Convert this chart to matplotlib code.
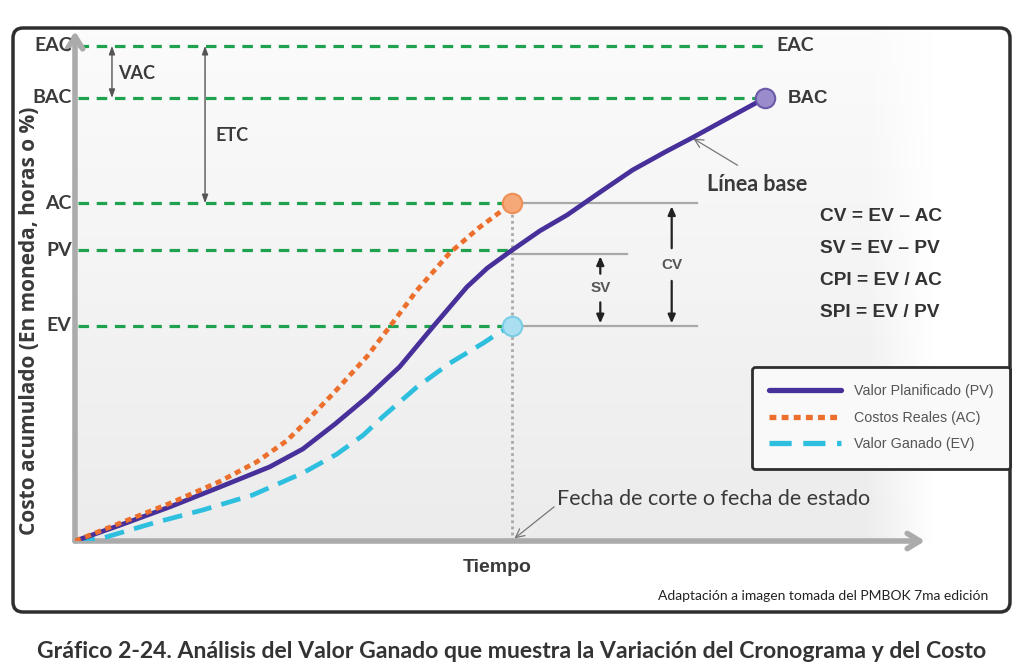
import numpy as np
import matplotlib
matplotlib.use("Agg")
import matplotlib.pyplot as plt
from matplotlib.patches import FancyBboxPatch

# ---------------- data (time units 0-100, cost units 0-100) ----------------
pv_time = [0, 5.3, 11.2, 17.1, 22.9, 26.8, 30.6, 34.4, 38.2, 42.1, 46.1, 48.5, 51.4,
           54.7, 57.9, 61.8, 65.6, 69.4, 72.6, 77.1, 81.2]
pv_cost = [0, 3.1, 6.7, 10.6, 14.5, 18.0, 22.9, 28.2, 34.1, 41.9, 49.7, 53.4, 56.9,
           60.7, 63.8, 68.3, 72.6, 76.1, 78.9, 83.0, 86.7]

ac_time = [0, 5.3, 11.2, 17.1, 21.4, 24.9, 26.8, 30.4, 34.4, 37.1, 40.2, 44.1, 47.6, 51.4]
ac_cost = [0, 3.5, 7.4, 11.7, 15.5, 19.6, 22.7, 28.9, 36.2, 42.1, 49.0, 56.4, 61.4, 66.1]

ev_time = [0, 3.3, 9.2, 15.1, 20.9, 26.8, 30.8, 33.9, 36.2, 40.2, 44.1, 48.0, 50.0, 51.4]
ev_cost = [0, 0.6, 3.5, 6.1, 9.0, 13.3, 17.0, 20.7, 24.3, 30.1, 34.8, 38.7, 40.9, 42.1]

level_labels = ["EAC", "BAC", "AC", "PV", "EV"]
level_values = [96.9, 86.7, 66.1, 56.9, 42.1]

series_labels = ["Valor Planificado (PV)", "Costos Reales (AC)", "Valor Ganado (EV)"]
formulas = ["CV = EV – AC", "SV = EV – PV", "CPI = EV / AC", "SPI = EV / PV"]

cutoff_t = ac_time[-1]
lv = dict(zip(level_labels, level_values))

# ---------------- styling ----------------
GREEN = "#1fa24f"
PURPLE = "#47309a"
ORANGE = "#ec6f2d"
CYAN = "#2ebfdf"
DARK = "#3a3a3a"
GRAY = "#a9a9a9"
BOLD = ["Lato", "DejaVu Sans"]
NARROW = ["Liberation Sans Narrow", "Liberation Sans", "DejaVu Sans"]

fig = plt.figure(figsize=(10.24, 6.72), dpi=100)
fig.patch.set_facecolor("white")

# background / decoration axes in pixel coordinates
bg = fig.add_axes([0, 0, 1, 1])
bg.set_xlim(0, 1024)
bg.set_ylim(672, 0)
bg.axis("off")

# soft gray gradient behind the plot area
H, W = 200, 300
yy = np.linspace(0, 1, H).reshape(-1, 1)
xx = np.linspace(0, 1, W).reshape(1, -1)
shade = 0.985 - 0.06 * yy * np.ones_like(xx)
fade = np.clip((1.0 - xx) / 0.08, 0, 1) * np.ones_like(yy)
img = np.ones((H, W, 4))
img[..., 0] = shade
img[..., 1] = shade
img[..., 2] = shade
img[..., 3] = fade
bg.imshow(img, extent=(78, 935, 541, 30), aspect="auto", zorder=0, interpolation="bilinear")
frame = FancyBboxPatch((13, 28), 997, 584, boxstyle="round,pad=0,rounding_size=10",
                       facecolor="none", edgecolor="#2e2e2e", lw=2.5, zorder=5)
bg.add_patch(frame)

bg.text(30, 321, "Costo acumulado (En moneda, horas o %)", rotation=90, ha="center", va="center",
        fontsize=15, fontweight="bold", color=DARK, family=["Open Sans", "DejaVu Sans"])
bg.text(497, 567, "Tiempo", ha="center", va="center", fontsize=14, fontweight="bold",
        color=DARK, family=NARROW)
bg.text(988, 596, "Adaptación a imagen tomada del PMBOK 7ma edición", ha="right", va="center",
        fontsize=10, color="#222222", family=["Lato", "DejaVu Sans"])
bg.text(512, 652, "Gráfico 2-24. Análisis del Valor Ganado que muestra la Variación del Cronograma y del Costo",
        ha="center", va="center", fontsize=16.6, fontweight="bold", color="#333333", family=BOLD)

# ---------------- main axes ----------------
ax = fig.add_axes([75 / 1024, (672 - 541) / 672, 850 / 1024, 511 / 672])
ax.set_xlim(0, 100)
ax.set_ylim(0, 100)
ax.patch.set_alpha(0)
ax.axis("off")

# axes arrows
ax.annotate("", xy=(100, 0), xytext=(0, 0), annotation_clip=False,
            arrowprops=dict(arrowstyle="->,head_length=0.9,head_width=0.55", color="#ababab", lw=4,
                            shrinkA=0, shrinkB=0))
ax.annotate("", xy=(0, 99.8), xytext=(0, 0), annotation_clip=False,
            arrowprops=dict(arrowstyle="->,head_length=0.9,head_width=0.55", color="#ababab", lw=4,
                            shrinkA=0, shrinkB=0))

# green reference levels
for name, val in zip(level_labels, level_values):
    xend = pv_time[-1] if name in ("EAC", "BAC") else cutoff_t
    ax.plot([0.4, xend], [val, val], color=GREEN, lw=2.3, ls=(0, (3.3, 2.4)), zorder=2)
    ax.text(-0.4, val, name, ha="right", va="center", fontsize=14, fontweight="bold",
            color=DARK, family=BOLD)

# right side EAC / BAC labels
ax.text(pv_time[-1] + 1.3, lv["EAC"], "EAC", ha="left", va="center", fontsize=14,
        fontweight="bold", color=DARK, family=BOLD)
ax.text(pv_time[-1] + 2.6, lv["BAC"] - 0.2, "BAC", ha="left", va="center", fontsize=13.5,
        fontweight="bold", color=DARK, family=["Liberation Sans", "DejaVu Sans"])

# cutoff dotted line
ax.plot([cutoff_t, cutoff_t], [0, lv["AC"]], color=GRAY, lw=2, ls=(0, (1, 1.2)), zorder=2)

# gray horizontal lines for CV / SV
ax.plot([cutoff_t, 73.2], [lv["AC"], lv["AC"]], color=GRAY, lw=1.6, zorder=2)
ax.plot([cutoff_t, 64.9], [lv["PV"] - 0.7, lv["PV"] - 0.7], color=GRAY, lw=1.6, zorder=2)
ax.plot([cutoff_t, 73.2], [lv["EV"], lv["EV"]], color=GRAY, lw=1.6, zorder=2)

# curves
l_pv, = ax.plot(pv_time, pv_cost, color=PURPLE, lw=3.4, solid_capstyle="round",
                solid_joinstyle="round", zorder=4, label=series_labels[0])
l_ac, = ax.plot(ac_time, ac_cost, color=ORANGE, lw=3.4, ls=(0, (1.3, 1.0)), zorder=4,
                label=series_labels[1])
l_ev, = ax.plot(ev_time, ev_cost, color=CYAN, lw=3.4, ls=(0, (4.2, 2.2)), zorder=3,
                label=series_labels[2])

# markers
ax.plot([cutoff_t], [ac_cost[-1]], "o", ms=14, mfc="#f5a878", mec="#ee8f55", mew=1.5, zorder=6)
ax.plot([cutoff_t], [ev_cost[-1]], "o", ms=14, mfc="#a9dff0", mec="#79cde5", mew=1.5, zorder=6)
ax.plot([pv_time[-1]], [pv_cost[-1]], "o", ms=14, mfc="#9a8ccc", mec="#6c5aa9", mew=1.5, zorder=6)

# VAC / ETC double arrows
arr_thin = dict(arrowstyle="<|-|>,head_length=0.5,head_width=0.18", color="#555555", lw=1,
                shrinkA=0, shrinkB=0)
ax.annotate("", xy=(4.35, lv["EAC"]), xytext=(4.35, lv["BAC"]), arrowprops=arr_thin)
ax.annotate("", xy=(15.3, lv["EAC"]), xytext=(15.3, lv["AC"]), arrowprops=arr_thin)
ax.text(5.1, (lv["EAC"] + lv["BAC"]) / 2 - 0.3, "VAC", ha="left", va="center", fontsize=13,
        fontweight="bold", color=DARK, family=BOLD)
ax.text(16.5, 79.4, "ETC", ha="left", va="center", fontsize=13, fontweight="bold",
        color=DARK, family=BOLD)

# CV / SV arrows
arr_v = dict(arrowstyle="-|>,head_length=0.5,head_width=0.22", color="#222222", lw=1.6,
             shrinkA=0, shrinkB=0)
cv_x, sv_x = 70.2, 61.8
cv_mid = (lv["AC"] + lv["EV"]) / 2
sv_mid = (lv["PV"] + lv["EV"]) / 2
ax.annotate("", xy=(cv_x, lv["AC"] - 0.6), xytext=(cv_x, cv_mid + 3.2), arrowprops=arr_v)
ax.annotate("", xy=(cv_x, lv["EV"] + 0.5), xytext=(cv_x, cv_mid - 3.2), arrowprops=arr_v)
ax.annotate("", xy=(sv_x, lv["PV"] - 1.2), xytext=(sv_x, sv_mid + 2.8), arrowprops=arr_v)
ax.annotate("", xy=(sv_x, lv["EV"] + 0.5), xytext=(sv_x, sv_mid - 2.8), arrowprops=arr_v)
ax.text(cv_x, cv_mid, "CV", ha="center", va="center", fontsize=11, fontweight="bold",
        color="#555555", family=NARROW)
ax.text(sv_x, sv_mid, "SV", ha="center", va="center", fontsize=11, fontweight="bold",
        color="#555555", family=NARROW)

# Línea base annotation
ax.annotate("Línea base", xy=(72.6, 78.9), xytext=(74.3, 69.8), ha="left", va="center",
            fontsize=15.5, fontweight="bold", color=DARK, family=BOLD,
            arrowprops=dict(arrowstyle="->", color="#777777", lw=0.9, shrinkA=8, shrinkB=1,
                            relpos=(0.45, 1.0)))

# Fecha de corte annotation
ax.annotate("Fecha de corte o fecha de estado", xy=(cutoff_t + 0.3, 0.5), xytext=(56.7, 8.3),
            ha="left", va="center", fontsize=15.5, color=DARK, family=["Lato", "DejaVu Sans"],
            arrowprops=dict(arrowstyle="->", color="#777777", lw=0.9, shrinkA=0, shrinkB=0,
                            relpos=(0.0, 0.2)))

# formulas
for i, f in enumerate(formulas):
    ax.text(87.6, 63.6 - i * 6.3, f, ha="left", va="center", fontsize=13.8, fontweight="bold",
            color="#333333", family=NARROW)

# legend
leg = ax.legend(handles=[l_pv, l_ac, l_ev], labels=series_labels, loc="upper left",
                bbox_to_anchor=(752 / 1024, 1 - 367 / 672), bbox_transform=fig.transFigure,
                handlelength=5.0, handletextpad=0.9, labelspacing=0.88,
                borderpad=1.2, borderaxespad=0, frameon=True, fancybox=True,
                prop={"family": NARROW, "size": 10.3})
leg.get_frame().set_edgecolor("#2e2e2e")
leg.get_frame().set_linewidth(2)
leg.get_frame().set_facecolor("#f9f9f9")
leg.get_frame().set_alpha(1)
for t in leg.get_texts():
    t.set_color("#555555")
for h in leg.get_lines():
    h.set_linewidth(3.8)
leg.set_zorder(7)

fig.savefig("out.png", dpi=100, facecolor="white")
